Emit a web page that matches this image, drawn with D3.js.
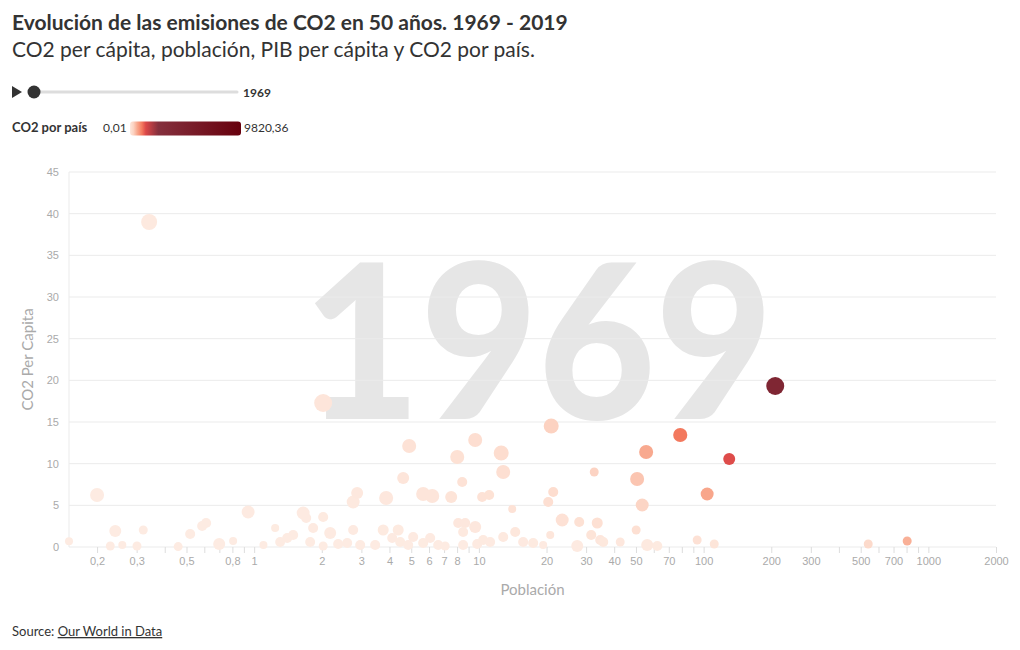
<!DOCTYPE html>
<html>
<head>
<meta charset="utf-8">
<script src="https://cdn.jsdelivr.net/npm/d3@7"></script>
<style>
  body { margin: 0; background: #fff; }
  svg { font-family: "Source Sans Pro", Lato, sans-serif; }
  .axis text { fill: #aaa; font-size: 11px; }
  .axis line { stroke: #ddd; }
</style>
</head>
<body>
<svg width="1020" height="650"></svg>
<script>
var anio = "1969";
var xaxistitle = "Población";
var yaxistitle = "CO2 Per Capita";

// poblacion (millones) por pais
var poblacion = [0.150, 0.200, 0.241, 0.229, 0.259, 0.301, 0.321, 0.341, 0.459, 0.519,
  0.587, 0.611, 0.699, 0.806, 0.940, 1.10, 1.24, 1.305, 1.403, 1.491,
  1.652, 1.704, 1.775, 1.830, 2.028, 2.028, 2.179, 2.028, 2.365, 2.594,
  2.758, 2.873, 2.758, 2.964, 3.455, 3.751, 3.867, 4.114, 4.374, 4.465,
  4.604, 4.896, 4.846, 5.10, 5.65, 5.65, 6.07, 6.20, 6.59, 7.08,
  7.53, 8.01, 8.43, 8.09, 8.69, 8.51, 8.51, 9.63, 9.63, 9.83,
  10.34, 11.11, 10.45, 11.22, 12.57, 12.83, 12.83, 14.07, 14.51, 15.74,
  17.44, 19.33, 20.35, 20.77, 20.98, 21.42, 23.48, 27.39, 27.95, 31.61,
  32.60, 33.62, 34.67, 35.75, 42.55, 50.1, 50.6, 53.3, 55.5, 56.1,
  62.2, 78.7, 93.6, 103.7, 111.5, 130, 208.3, 540, 805];

// CO2 per capita (t)
var co2PerCapita = [0.7, 6.24, 1.92, 0.12, 0.24, 0.12, 2.04, 39.0, 0.05, 1.56,
  2.52, 2.88, 0.36, 0.72, 4.2, 0.24, 2.28, 0.6, 1.08, 1.44,
  4.08, 3.48, 0.6, 2.28, 3.6, 0.12, 1.68, 17.28, 0.36, 0.48,
  2.04, 6.48, 5.4, 0.24, 0.24, 2.04, 5.88, 1.08, 2.04, 0.6,
  8.28, 12.12, 0.24, 1.2, 6.36, 0.48, 1.08, 6.12, 0.24, 0.12,
  6.0, 10.8, 7.8, 2.88, 2.88, 1.8, 0.24, 2.4, 12.84, 0.36,
  6.0, 6.24, 0.84, 0.6, 11.28, 9.0, 1.2, 4.56, 1.8, 0.6,
  0.48, 0.24, 5.4, 1.44, 14.52, 6.6, 3.24, 0.12, 3.0, 1.44,
  9.0, 2.88, 0.84, 0.6, 0.6, 2.04, 8.16, 5.04, 11.4, 0.24,
  0.12, 13.44, 0.84, 6.36, 0.36, 10.56, 19.32, 0.36, 0.72];

// CO2 por pais (Mt)
var co2Pais = [0.1, 1.2, 0.46, 0.03, 0.06, 0.04, 0.65, 13.3, 0.02, 0.8,
  1.5, 1.8, 0.25, 0.6, 3.9, 0.26, 2.8, 0.8, 1.5, 2.1,
  6.7, 5.9, 1.1, 4.2, 7.3, 0.24, 3.7, 35, 0.85, 1.2,
  5.6, 18.6, 14.9, 0.7, 0.8, 7.7, 22.7, 4.4, 8.9, 2.7,
  38, 59, 1.2, 6.1, 36, 2.7, 6.6, 38, 1.6, 0.85,
  45, 86, 66, 23, 25, 15, 2, 23, 124, 3.5,
  62, 69, 8.8, 6.7, 142, 115, 15, 64, 26, 9.4,
  8.4, 4.6, 110, 30, 305, 141, 76, 3.3, 84, 45,
  293, 97, 29, 21, 25, 102, 413, 269, 633, 13,
  7.5, 1058, 79, 660, 40, 1373, 4024, 194, 580];

// PIB per capita ($)
var pibPerCapita = [600, 9500, 5300, 1300, 600, 1300, 1300, 14800, 1300, 2400,
  2400, 2600, 5300, 600, 7200, 600, 650, 2200, 2400, 2500,
  7200, 2400, 2300, 2400, 2500, 1300, 5300, 21300, 2400, 2400,
  2400, 5300, 7200, 2400, 2400, 3700, 9500, 2400, 3700, 2400,
  5300, 9500, 2400, 2400, 9500, 2400, 2400, 9500, 2400, 1300,
  5300, 9500, 2400, 2400, 2400, 2400, 2400, 5300, 9500, 2400,
  2400, 2400, 2400, 2400, 12000, 9500, 2400, 600, 2400, 2400,
  2400, 600, 2400, 600, 12000, 2400, 7200, 5300, 2400, 2400,
  1300, 3700, 2400, 2400, 1300, 1300, 9500, 7200, 9500, 5300,
  2400, 9800, 1300, 7200, 1300, 5300, 21300, 1300, 1300];

var xTicks = [0.2, 0.3, 0.4, 0.5, 0.6, 0.7, 0.8, 0.9, 1, 2, 3, 4, 5, 6, 7, 8, 9,
  10, 20, 30, 40, 50, 60, 70, 80, 90, 100, 200, 300, 400, 500, 600, 700, 800, 900, 1000, 2000];
var xTickLabels = [0.2, 0.3, 0.5, 0.8, 1, 2, 3, 4, 5, 6, 7, 8, 10, 20, 30, 40, 50, 70,
  100, 200, 300, 500, 700, 1000, 2000];
var yTicks = [0, 5, 10, 15, 20, 25, 30, 35, 40, 45];

var co2Min = 0.01, co2Max = 9820.36;
var colorStops = [co2Min, 50, 300, 650, 1050, 1400, 2500, co2Max];
var colorRange = ["#fdebe2", "#fde3d7", "#fcd3c2", "#f8a78c", "#f47a5f", "#dc4848", "#85303d", "#67000d"];

var data = poblacion.map(function(p, i) {
  return { pop: p, percap: co2PerCapita[i], total: co2Pais[i], pib: pibPerCapita[i] };
});

var svg = d3.select("svg");
var mLeft = 69, mRight = 996, mTop = 172, mBottom = 547;

var es = d3.formatLocale({ decimal: ",", thousands: "", grouping: [3], currency: ["", ""] });
var fmt = es.format("~g");

var x = d3.scaleLog().domain([0.15, 2000]).range([mLeft, mRight]);
var y = d3.scaleLinear().domain([0, 45]).range([mBottom, mTop]);
var r = d3.scaleSqrt().domain([0, 25000]).range([3, 9.5]);
var color = d3.scaleLinear().domain(colorStops).range(colorRange);

// titulo
svg.append("text").attr("x", 12).attr("y", 30)
  .style("font-size", "21px").style("font-weight", 700).attr("fill", "#333")
  .text("Evolución de las emisiones de CO2 en 50 años. 1969 - 2019");
svg.append("text").attr("x", 12).attr("y", 57)
  .style("font-size", "21px").attr("fill", "#333")
  .text("CO2 per cápita, población, PIB per cápita y CO2 por país.");

// slider
svg.append("path").attr("d", "M12,86L22,92L12,98Z").attr("fill", "#333");
svg.append("line").attr("x1", 34).attr("x2", 237).attr("y1", 92).attr("y2", 92)
  .attr("stroke", "#ddd").attr("stroke-width", 3).attr("stroke-linecap", "round");
svg.append("circle").attr("cx", 34).attr("cy", 92).attr("r", 6.5).attr("fill", "#333");
svg.append("text").attr("x", 243).attr("y", 96.5)
  .style("font-size", "12px").style("font-weight", 700).attr("fill", "#333").text(anio);

// leyenda de color
var defs = svg.append("defs");
var grad = defs.append("linearGradient").attr("id", "grad");
grad.selectAll("stop").data(colorStops).enter().append("stop")
  .attr("offset", function(d) { return (d - co2Min) / (co2Max - co2Min); })
  .attr("stop-color", function(d) { return color(d); });
svg.append("text").attr("x", 12).attr("y", 132)
  .style("font-size", "13px").style("font-weight", 700).attr("fill", "#333").text("CO2 por país");
svg.append("text").attr("x", 103).attr("y", 132)
  .style("font-size", "12px").attr("fill", "#333").text(es.format(".2f")(co2Min));
svg.append("rect").attr("x", 130).attr("y", 121.5).attr("width", 111).attr("height", 14)
  .attr("rx", 3).attr("fill", "url(#grad)");
svg.append("text").attr("x", 244).attr("y", 132)
  .style("font-size", "12px").attr("fill", "#333").text(es.format(".2f")(co2Max));

// marca de agua del año
svg.append("text").attr("x", 538).attr("y", 419)
  .attr("text-anchor", "middle").attr("textLength", 470).attr("lengthAdjust", "spacingAndGlyphs")
  .style("font-size", "216px").style("font-weight", 900).attr("fill", "#e6e6e6")
  .text(anio);

// rejilla
svg.append("g").selectAll("line").data(yTicks).enter().append("line")
  .attr("x1", mLeft).attr("x2", mRight)
  .attr("y1", function(d) { return y(d); }).attr("y2", function(d) { return y(d); })
  .attr("stroke", "#ebebeb");
svg.append("line").attr("x1", mLeft).attr("x2", mLeft).attr("y1", mTop).attr("y2", mBottom)
  .attr("stroke", "#ebebeb");

// ejes
svg.append("g").attr("class", "axis")
  .attr("transform", "translate(0," + mBottom + ")")
  .call(d3.axisBottom(x).tickValues(xTicks).tickSize(6).tickPadding(4)
    .tickFormat(function(d) { return xTickLabels.indexOf(d) >= 0 ? fmt(d) : ""; }))
  .call(function(g) { g.select(".domain").remove(); });

svg.append("g").attr("class", "axis")
  .attr("transform", "translate(" + mLeft + ",0)")
  .call(d3.axisLeft(y).tickValues(yTicks).tickSize(0).tickPadding(10))
  .call(function(g) { g.select(".domain").remove(); });

svg.append("text").attr("x", (mLeft + mRight) / 2).attr("y", 595)
  .attr("text-anchor", "middle").style("font-size", "15px").attr("fill", "#aaa")
  .text(xaxistitle);
svg.append("text").attr("transform", "translate(33," + ((mTop + mBottom) / 2) + ") rotate(-90)")
  .attr("text-anchor", "middle").style("font-size", "15px").attr("fill", "#aaa")
  .text(yaxistitle);

// burbujas
var sorted = data.slice().sort(function(a, b) { return b.pib - a.pib; });
svg.append("g").selectAll("circle").data(sorted).enter().append("circle")
  .attr("cx", function(d) { return x(d.pop); })
  .attr("cy", function(d) { return y(d.percap); })
  .attr("r", function(d) { return r(d.pib); })
  .attr("fill", function(d) { return color(d.total); });

// fuente
var src = svg.append("text").attr("x", 12).attr("y", 636)
  .style("font-size", "13px").attr("fill", "#333");
src.append("tspan").text("Source: ");
src.append("tspan").style("text-decoration", "underline").text("Our World in Data");
</script>
</body>
</html>
